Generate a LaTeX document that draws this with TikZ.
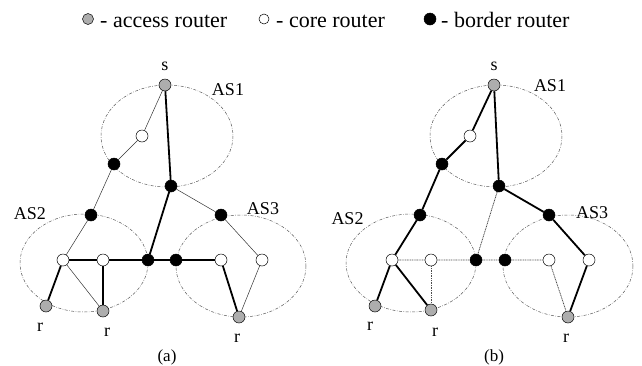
\documentclass[tikz,border=0pt]{standalone}
\usepackage{fontspec}
\setmainfont{Liberation Serif}
\usetikzlibrary{backgrounds}
\tikzset{
  rt/.style={circle,draw=black,line width=0.5pt,minimum size=12pt,inner sep=0pt},
  acc/.style={rt,fill=black!32},
  core/.style={rt,fill=white},
  bord/.style={rt,fill=black},
  lacc/.style={acc,minimum size=11pt},
  lcore/.style={core,minimum size=10pt},
  lbord/.style={bord,minimum size=12pt},
  thk/.style={line width=1.8pt,black},
  thn/.style={line width=0.5pt,black!80},
  dtd/.style={line width=0.8pt,black!70,dash pattern=on 1pt off 0.7pt},
  asell/.style={line width=0.5pt,black!65,dash pattern=on 3pt off 1.5pt on 0.6pt off 1.5pt},
  lbl/.style={font=\fontsize{18}{18}\selectfont,anchor=base,inner sep=0pt},
  leg/.style={font=\fontsize{22}{22}\selectfont,anchor=base west,inner sep=0pt},
  captxt/.style={font=\fontsize{17}{17}\selectfont,anchor=base,inner sep=0pt}
}
\begin{document}
\begin{tikzpicture}[x=1pt,y=-1pt]
\useasboundingbox (0,0) rectangle (642,365);
% legend
\node[lacc] (la) at (88,19) {};
\node[leg] (lta) at (100,27) {- access router};
\node[lcore] (lc) at (264,19) {};
\node[leg] (ltc) at (276,27) {- core router};
\node[lbord] (lb) at (430,19) {};
\node[leg] (ltb) at (441,27) {- border router};

% ---------- panel (a) ----------
\begin{scope}
\draw[asell] (167,136) ellipse [x radius=66, y radius=51];
\draw[asell] (84,263) ellipse [x radius=64, y radius=49];
\draw[asell] (241,266) ellipse [x radius=65, y radius=51];
\node[acc] (as) at (165,85) {};
\node[core] (ac1) at (142,136) {};
\node[bord] (abl) at (114,164) {};
\node[bord] (abr) at (171,186) {};
\node[bord] (ab2) at (91,215) {};
\node[bord] (ab3) at (221,215) {};
\node[core] (ac21) at (63,260) {};
\node[core] (ac22) at (103,260) {};
\node[bord] (abb1) at (148,260) {};
\node[bord] (abb2) at (176,260) {};
\node[core] (ac31) at (221,260) {};
\node[core] (ac32) at (262,260) {};
\node[acc] (ar1) at (46,306) {};
\node[acc] (ar2) at (103,311) {};
\node[acc] (ar3) at (239,317) {};
\begin{scope}[on background layer]
\draw[thn] (as) -- (ac1) -- (abl) -- (ab2) -- (ac21) -- (ar2);
\draw[thn] (abr) -- (ab3) -- (ac32) -- (ar3);
\draw[thk] (as) -- (abr) -- (abb1);
\draw[thk] (ac21) -- (ac22) -- (abb1) -- (abb2) -- (ac31);
\draw[thk] (ac21) -- (ar1);
\draw[thk] (ac22) -- (ar2);
\draw[thk] (ac31) -- (ar3);
\end{scope}
\node[lbl] (als) at (165,70) {s};
\node[lbl] (alas1) at (228,95) {AS1};
\node[lbl] (alas2) at (30,219) {AS2};
\node[lbl] (alas3) at (263,214) {AS3};
\node[lbl] (alr1) at (40,331) {r};
\node[lbl] (alr2) at (107,336) {r};
\node[lbl] (alr3) at (237,342) {r};
\node[captxt] (acap) at (167,361) {(a)};
\end{scope}

% ---------- panel (b) ----------
\begin{scope}[xshift=329]
\draw[asell] (167,136) ellipse [x radius=66, y radius=51];
\draw[asell] (82,263) ellipse [x radius=65, y radius=49];
\draw[asell] (239,266) ellipse [x radius=65, y radius=51];
\node[acc] (bs) at (165,85) {};
\node[core] (bc1) at (141,136) {};
\node[bord] (bbl) at (113,164) {};
\node[bord] (bbr) at (170,186) {};
\node[bord] (bb2) at (91,215) {};
\node[bord] (bb3) at (220,215) {};
\node[core] (bc21) at (63,260) {};
\node[core] (bc22) at (102,260) {};
\node[bord] (bbb1) at (147,260) {};
\node[bord] (bbb2) at (176,260) {};
\node[core] (bc31) at (220,260) {};
\node[core] (bc32) at (260,260) {};
\node[acc] (br1) at (46,306) {};
\node[acc] (br2) at (102,310) {};
\node[acc] (br3) at (239,317) {};
\begin{scope}[on background layer]
\draw[dtd] (bbr) -- (bbb1);
\draw[dtd] (bc21) -- (bc22) -- (bbb1) -- (bbb2) -- (bc31) -- (br3);
\draw[dtd] (bc22) -- (br2);
\draw[thk] (bs) -- (bc1) -- (bbl) -- (bb2) -- (bc21) -- (br1);
\draw[thk] (bc21) -- (br2);
\draw[thk] (bs) -- (bbr) -- (bb3) -- (bc32) -- (br3);
\end{scope}
\node[lbl] (bls) at (165,70) {s};
\node[lbl] (blas1) at (221,91) {AS1};
\node[lbl] (blas2) at (18.5,224) {AS2};
\node[lbl] (blas3) at (263,218) {AS3};
\node[lbl] (blr1) at (41,330) {r};
\node[lbl] (blr2) at (106,336) {r};
\node[lbl] (blr3) at (237,342) {r};
\node[captxt] (bcap) at (165,361) {(b)};
\end{scope}
\end{tikzpicture}
\end{document}
